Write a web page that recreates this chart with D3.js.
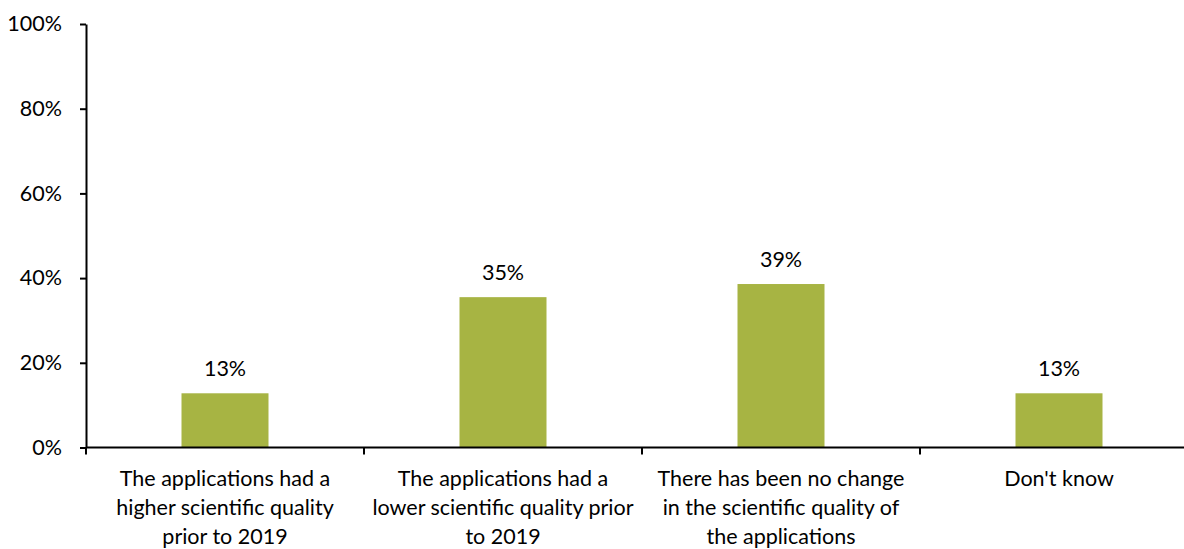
<!DOCTYPE html>
<html>
<head>
<meta charset="utf-8">
<script src="https://cdn.jsdelivr.net/npm/d3@7"></script>
<style>
  body { margin: 0; background: #fff; }
  text { font-family: Lato, "Open Sans", sans-serif; fill: #000; }
</style>
</head>
<body>
<div id="chart"></div>
<script>
var width = 1184;
var height = 549;

var categories = [
  ['The applications had a', 'higher scientific quality', 'prior to 2019'],
  ['The applications had a', 'lower scientific quality prior', 'to 2019'],
  ['There has been no change', 'in the scientific quality of', 'the applications'],
  ["Don't know"]
];
var values = [12.8, 35.5, 38.6, 12.8];
var valueLabels = ['13%', '35%', '39%', '13%'];
var yTicks = [0, 20, 40, 60, 80, 100];

var plotLeft = 86, plotRight = 1198, plotTop = 24, plotBottom = 447.5;
var fontSize = 21.5;

var svg = d3.select('#chart').append('svg')
  .attr('width', width)
  .attr('height', height);

var x = d3.scaleBand()
  .domain(d3.range(categories.length))
  .range([plotLeft, plotRight])
  .paddingInner(0)
  .paddingOuter(0);

var y = d3.scaleLinear().domain([0, 100]).range([plotBottom, plotTop]);

var barW = 87;

// bars
svg.append('g').selectAll('rect')
  .data(values)
  .enter().append('rect')
  .attr('x', function(d, i) { return x(i) + x.bandwidth() / 2 - barW / 2; })
  .attr('y', function(d) { return y(d); })
  .attr('width', barW)
  .attr('height', function(d) { return y(0) - y(d); })
  .attr('fill', '#a7b443');

// value labels
svg.append('g').selectAll('text')
  .data(values)
  .enter().append('text')
  .attr('x', function(d, i) { return x(i) + x.bandwidth() / 2; })
  .attr('y', function(d) { return y(d) - 17; })
  .attr('text-anchor', 'middle')
  .attr('font-size', fontSize)
  .text(function(d, i) { return valueLabels[i]; });

// y axis
var yAxis = svg.append('g')
  .attr('transform', 'translate(' + plotLeft + ',0)')
  .call(d3.axisLeft(y).tickValues(yTicks).tickSize(6).tickSizeOuter(0)
    .tickFormat(function(d) { return d + '%'; }));
yAxis.select('.domain').attr('stroke', '#000').attr('stroke-width', 2);
yAxis.selectAll('.tick line').attr('stroke', '#000').attr('stroke-width', 2);
yAxis.selectAll('.tick text')
  .attr('x', -24)
  .attr('font-size', fontSize)
  .attr('font-family', 'Lato, sans-serif')
  .attr('fill', '#000');

// x axis line and category ticks
var xAxis = svg.append('g');
xAxis.append('line')
  .attr('x1', plotLeft).attr('x2', width)
  .attr('y1', plotBottom).attr('y2', plotBottom)
  .attr('stroke', '#000').attr('stroke-width', 2);
xAxis.selectAll('line.tk')
  .data(d3.range(categories.length + 1))
  .enter().append('line')
  .attr('class', 'tk')
  .attr('x1', function(i) { return plotLeft + i * x.step(); })
  .attr('x2', function(i) { return plotLeft + i * x.step(); })
  .attr('y1', plotBottom).attr('y2', plotBottom + 7)
  .attr('stroke', '#000').attr('stroke-width', 2);

// category labels
var lab = svg.append('g').selectAll('text')
  .data(categories)
  .enter().append('text')
  .attr('text-anchor', 'middle')
  .attr('font-size', fontSize)
  .attr('x', function(d, i) { return x(i) + x.bandwidth() / 2; })
  .attr('y', 486);
lab.selectAll('tspan')
  .data(function(d) { return d; })
  .enter().append('tspan')
  .attr('x', function() { return d3.select(this.parentNode).attr('x'); })
  .attr('dy', function(d, j) { return j === 0 ? 0 : 29; })
  .text(function(d) { return d; });
</script>
</body>
</html>
